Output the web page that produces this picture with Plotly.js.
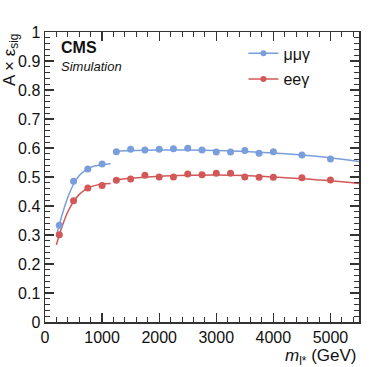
<!DOCTYPE html>
<html>
<head>
<meta charset="utf-8">
<script src="https://cdn.plot.ly/plotly-3.0.1.min.js"></script>
<style>html,body{margin:0;padding:0;background:#fff;}#chart{width:374px;height:367px;}</style>
</head>
<body>
<div id="chart"></div>
<script>
// Signal mass points (GeV)
const mass = [250, 500, 750, 1000, 1250, 1500, 1750, 2000, 2250, 2500, 2750, 3000, 3250, 3500, 3750, 4000, 4500, 5000];
// Acceptance x efficiency, mu mu gamma channel
const effMuMu = [0.334, 0.485, 0.528, 0.545, 0.587, 0.596, 0.593, 0.596, 0.597, 0.599, 0.593, 0.586, 0.586, 0.591, 0.582, 0.587, 0.576, 0.562];
// Acceptance x efficiency, e e gamma channel
const effEE = [0.301, 0.418, 0.462, 0.471, 0.489, 0.493, 0.506, 0.500, 0.500, 0.510, 0.508, 0.513, 0.513, 0.500, 0.499, 0.499, 0.497, 0.490];

// Fit curves (low-mass and high-mass pieces)
const fitLowX = [200, 250, 300, 400, 500, 600, 700, 800, 900, 1000, 1150];
const fitLowMuMu = [0.298, 0.335, 0.370, 0.430, 0.475, 0.505, 0.522, 0.533, 0.539, 0.543, 0.546];
const fitLowEE = [0.266, 0.300, 0.330, 0.380, 0.415, 0.440, 0.456, 0.466, 0.472, 0.476, 0.478];
const fitHighX = [1200, 1500, 2000, 2500, 3000, 3500, 4000, 4500, 5000, 5500];
const fitHighMuMu = [0.588, 0.591, 0.593, 0.593, 0.591, 0.588, 0.583, 0.576, 0.566, 0.553];
const fitHighEE = [0.489, 0.496, 0.503, 0.506, 0.507, 0.505, 0.500, 0.494, 0.487, 0.478];

const legendNames = ['μμγ', 'eeγ'];
const blue = '#7a9edb';
const red = '#d25757';
const font = '"Liberation Sans", Arial, Helvetica, sans-serif';

const traces = [
  {x: fitLowX, y: fitLowMuMu, mode: 'lines', line: {color: blue, width: 1.5, shape: 'spline'}, showlegend: false, hoverinfo: 'skip'},
  {x: fitHighX, y: fitHighMuMu, mode: 'lines', line: {color: blue, width: 1.5, shape: 'spline'}, showlegend: false, hoverinfo: 'skip'},
  {x: fitLowX, y: fitLowEE, mode: 'lines', line: {color: red, width: 1.5, shape: 'spline'}, showlegend: false, hoverinfo: 'skip'},
  {x: fitHighX, y: fitHighEE, mode: 'lines', line: {color: red, width: 1.5, shape: 'spline'}, showlegend: false, hoverinfo: 'skip'},
  {x: mass, y: effMuMu, name: legendNames[0], mode: 'markers', marker: {color: blue, size: 7}, showlegend: false},
  {x: mass, y: effEE, name: legendNames[1], mode: 'markers', marker: {color: red, size: 7}, showlegend: false},
  // legend entries
  {x: [null], y: [null], name: legendNames[0], legendgroup: 'a', mode: 'lines+markers', marker: {color: blue, size: 6}, line: {color: blue, width: 1.6}},
  {x: [null], y: [null], name: legendNames[1], legendgroup: 'b', mode: 'lines+markers', marker: {color: red, size: 6}, line: {color: red, width: 1.6}}
];

const axisCommon = {
  showgrid: false, zeroline: false, showline: true, linecolor: '#333', linewidth: 1.5,
  ticks: 'inside', ticklen: 9, tickwidth: 1.2, tickcolor: '#333', mirror: 'allticks',
  tickfont: {family: font, size: 16, color: '#111'}
};

const layout = {
  width: 374, height: 367,
  margin: {l: 45, r: 15, t: 32, b: 45},
  paper_bgcolor: '#fff', plot_bgcolor: '#fff',
  font: {family: font, color: '#111'},
  showlegend: true,
  legend: {x: 0.632, y: 0.985, xanchor: 'left', yanchor: 'top', bgcolor: 'rgba(0,0,0,0)',
           font: {family: font, size: 16, color: '#111'}, tracegroupgap: 2, itemwidth: 30},
  xaxis: Object.assign({}, axisCommon, {range: [0, 5500], dtick: 1000, tickformat: 'd',
    minor: {ticks: 'inside', dtick: 200, ticklen: 5, tickwidth: 1, tickcolor: '#333'}}),
  yaxis: Object.assign({}, axisCommon, {range: [0, 1], dtick: 0.1, tickformat: '~g',
    minor: {ticks: 'inside', dtick: 0.02, ticklen: 5, tickwidth: 1, tickcolor: '#333'}}),
  annotations: [
    {text: '<b>CMS</b>', xref: 'paper', yref: 'paper', x: 0.045, y: 0.982, xanchor: 'left', yanchor: 'top', showarrow: false,
     font: {family: font, size: 16, color: '#111'}},
    {text: '<i>Simulation</i>', xref: 'paper', yref: 'paper', x: 0.045, y: 0.915, xanchor: 'left', yanchor: 'top', showarrow: false,
     font: {family: font, size: 13, color: '#111'}},
    {text: '<i>m</i><sub>l*</sub> (GeV)', xref: 'paper', yref: 'paper', x: 1.0, y: -0.075, xanchor: 'right', yanchor: 'top', showarrow: false,
     font: {family: font, size: 17, color: '#111'}},
    {text: 'A × ε<sub>sig</sub>', xref: 'paper', yref: 'paper', x: -0.11, y: 1.003, xanchor: 'center', yanchor: 'top', textangle: -90, showarrow: false,
     font: {family: font, size: 17, color: '#111'}}
  ]
};

Plotly.newPlot('chart', traces, layout, {displayModeBar: false, staticPlot: true});
</script>
</body>
</html>
